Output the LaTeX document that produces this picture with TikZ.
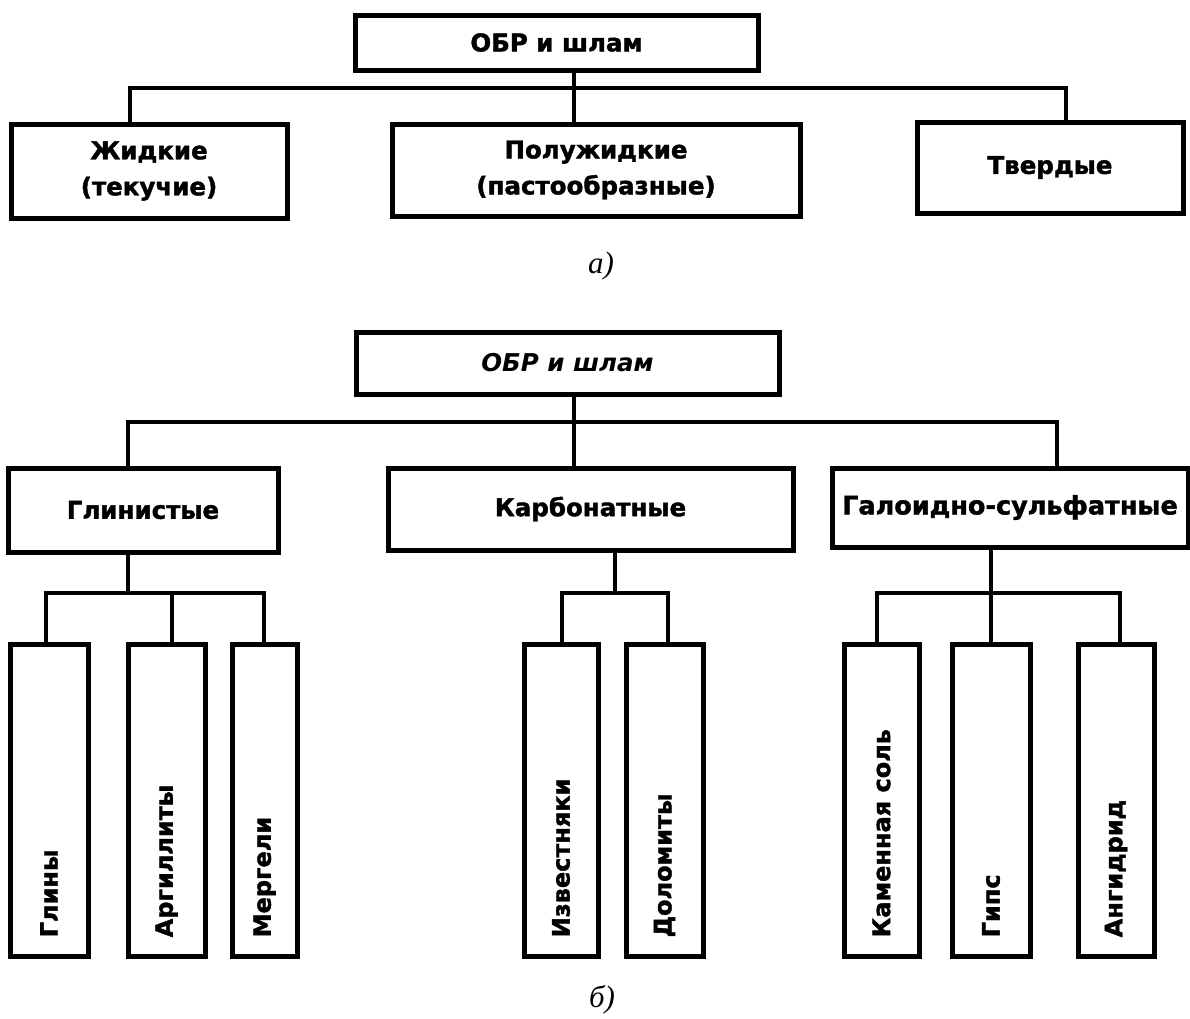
\documentclass[tikz,border=0pt]{standalone}
\usepackage{fontspec}
\newfontfamily\labf{DejaVu Sans}[BoldFeatures={FakeBold=1.6}]
\newfontfamily\capf{Liberation Serif}
\begin{document}
\begin{tikzpicture}[x=1pt,y=-1pt,
  box/.style={draw,line width=5pt,rectangle,inner sep=0pt,align=center,
    font=\labf\bfseries\fontsize{24.5}{36}\selectfont},
  leaf/.style={draw,line width=5pt,rectangle,inner sep=0pt,minimum height=312pt},
  vlab/.style={rotate=90,anchor=west,inner sep=0pt,font=\labf\bfseries\fontsize{24}{28}\selectfont},
  conn/.style={line width=4.5pt,line cap=rect},
  capt/.style={font=\capf\fontsize{31}{34}\selectfont,inner sep=0pt}]
\useasboundingbox (0,0) rectangle (1190,1018);
% ---------- a)
\node[box,minimum width=403pt,minimum height=55pt] (topA) at (556.5,42.5) {ОБР и шлам};
\node[box,minimum width=276pt,minimum height=94pt] (zhid) at (149,171) {Жидкие\\(текучие)};
\node[box,minimum width=408pt,minimum height=92pt] (polu) at (596,170) {Полужидкие\\(пастообразные)};
\node[box,minimum width=266pt,minimum height=91pt] (tverd) at (1050,167.5) {Твердые};
\coordinate (jA) at (574,88);
\coordinate (jAL) at (130,88);
\coordinate (jAR) at (1066,88);
\draw[conn] (topA.south -| jA) -- (jA) -- (polu.north -| jA);
\draw[conn] (zhid.north -| jAL) -- (jAL) -- (jAR) -- (tverd.north -| jAR);
\node[capt] (capA) at (601,266) {\itshape a)};
% ---------- b)
\node[box,minimum width=423pt,minimum height=62pt] (topB) at (567.5,363) {\itshape ОБР и шлам};
\node[box,minimum width=270pt,minimum height=84pt] (glin) at (143,510) {Глинистые};
\node[box,minimum width=405pt,minimum height=82pt] (karb) at (590.5,509) {Карбонатные};
\node[box,minimum width=356pt,minimum height=79pt,font=\labf\bfseries\fontsize{25.5}{36}\selectfont] (gal) at (1010,507.5) {Галоидно-сульфатные};
\coordinate (jB) at (574,422);
\coordinate (jBL) at (128,422);
\coordinate (jBR) at (1057,422);
\draw[conn] (topB.south -| jB) -- (jB) -- (karb.north -| jB);
\draw[conn] (glin.north -| jBL) -- (jBL) -- (jBR) -- (gal.north -| jBR);
% leaves
\node[leaf,minimum width=78pt] (glina) at (49,800) {};
\node[leaf,minimum width=77pt] (argil) at (166.5,800) {};
\node[leaf,minimum width=65pt] (merg) at (264.5,800) {};
\node[leaf,minimum width=74pt] (izv) at (561,800) {};
\node[leaf,minimum width=77pt] (dolo) at (664.5,800) {};
\node[leaf,minimum width=75pt] (kam) at (881.5,800) {};
\node[leaf,minimum width=78pt] (gips) at (991,800) {};
\node[leaf,minimum width=76pt] (angi) at (1116,800) {};
\node[vlab] (tglina) at ([yshift=21pt]glina.south) {Глины};
\node[vlab] (targil) at ([yshift=21pt]argil.south) {Аргиллиты};
\node[vlab] (tmerg) at ([yshift=21pt]merg.south) {Мергели};
\node[vlab] (tizv) at ([yshift=21pt]izv.south) {Известняки};
\node[vlab] (tdolo) at ([yshift=21pt]dolo.south) {Доломиты};
\node[vlab] (tkam) at ([yshift=21pt]kam.south) {Каменная соль};
\node[vlab] (tgips) at ([yshift=21pt]gips.south) {Гипс};
\node[vlab] (tangi) at ([yshift=21pt]angi.south) {Ангидрид};
% sub connectors
\coordinate (g0) at (128,593);
\coordinate (g1) at (46,593);
\coordinate (g2) at (172,593);
\coordinate (g3) at (264,593);
\draw[conn] (glin.south -| g0) -- (g0);
\draw[conn] (glina.north -| g1) -- (g1) -- (g3) -- (merg.north -| g3);
\draw[conn] (g2) -- (argil.north -| g2);
\coordinate (k0) at (615,593);
\coordinate (k1) at (562,593);
\coordinate (k2) at (668,593);
\draw[conn] (karb.south -| k0) -- (k0);
\draw[conn] (izv.north -| k1) -- (k1) -- (k2) -- (dolo.north -| k2);
\coordinate (h0) at (991,593);
\coordinate (h1) at (877,593);
\coordinate (h2) at (1120,593);
\draw[conn] (gal.south -| h0) -- (h0) -- (gips.north -| h0);
\draw[conn] (kam.north -| h1) -- (h1) -- (h2) -- (angi.north -| h2);
\node[capt] (capB) at (602,1000) {\itshape б)};
\end{tikzpicture}
\end{document}
